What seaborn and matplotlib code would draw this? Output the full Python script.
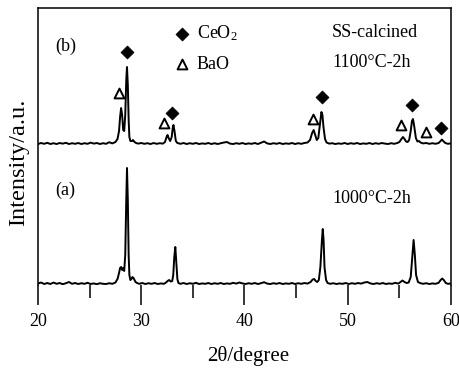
import matplotlib
matplotlib.use("Agg")
import matplotlib.pyplot as plt
import numpy as np
import pandas as pd
import seaborn as sns

# XRD traces: 2-theta (degree) and intensity (a.u.)
two_theta_a = [
    20.0, 20.3, 20.6, 20.9, 21.2, 21.5, 21.8, 22.1, 22.4, 22.7, 23.0, 23.3, 23.6, 23.9,
    24.2, 24.5, 24.8, 25.1, 25.4, 25.7, 26.0, 26.3, 26.6, 26.9, 27.2, 27.5, 27.7, 27.85,
    27.95, 28.05, 28.15, 28.25, 28.35, 28.45, 28.55, 28.62, 28.7, 28.78, 28.85, 28.95,
    29.05, 29.15, 29.25, 29.35, 29.45, 29.6, 29.8, 30.1, 30.4, 30.7, 31.0, 31.3, 31.6,
    31.9, 32.2, 32.4, 32.55, 32.7, 32.85, 33.0, 33.1, 33.2, 33.3, 33.4, 33.5, 33.6, 33.8,
    34.1, 34.4, 34.7, 35.0, 35.3, 35.6, 35.9, 36.2, 36.5, 36.8, 37.1, 37.4, 37.7, 38.0,
    38.3, 38.6, 38.9, 39.2, 39.5, 39.8, 40.1, 40.4, 40.7, 41.0, 41.3, 41.6, 41.9, 42.2,
    42.5, 42.8, 43.1, 43.4, 43.7, 44.0, 44.3, 44.6, 44.9, 45.2, 45.5, 45.8, 46.1, 46.4,
    46.6, 46.75, 46.9, 47.05, 47.2, 47.35, 47.5, 47.58, 47.66, 47.75, 47.9, 48.05, 48.3,
    48.6, 48.9, 49.2, 49.5, 49.8, 50.1, 50.4, 50.7, 51.0, 51.3, 51.6, 51.9, 52.2, 52.5,
    52.8, 53.1, 53.4, 53.7, 54.0, 54.3, 54.6, 54.9, 55.1, 55.3, 55.5, 55.7, 55.9, 56.1,
    56.25, 56.38, 56.5, 56.62, 56.8, 57.0, 57.3, 57.6, 57.9, 58.2, 58.5, 58.8, 59.0,
    59.15, 59.3, 59.5, 59.7, 60.0,
]
intensity_a = [
    1.5, 2.5, 1.0, 2.0, 1.0, 2.5, 1.2, 2.0, 0.8, 1.8, 3.0, 1.2, 2.0, 1.0,
    1.8, 1.2, 2.2, 1.0, 1.6, 0.8, 1.8, 1.2, 1.0, 1.8, 1.2, 2.5, 6.0, 12.0,
    17.0, 18.0, 15.0, 17.0, 14.0, 30.0, 85.0, 117.0, 85.0, 30.0, 10.0, 5.0,
    6.0, 8.0, 7.0, 5.0, 3.0, 2.0, 1.2, 2.0, 1.0, 1.8, 1.2, 2.0, 1.0,
    1.6, 1.2, 2.5, 4.0, 5.0, 3.5, 4.0, 10.0, 28.0, 38.0, 22.0, 6.0, 2.0, 1.2,
    2.0, 1.0, 1.8, 1.2, 2.2, 1.0, 1.6, 1.2, 2.0, 1.0, 1.8, 1.2, 2.0, 1.0,
    1.6, 1.2, 2.2, 1.4, 2.5, 1.6, 1.0, 1.8, 1.2, 2.0, 1.0, 1.8, 2.8, 1.4,
    1.0, 1.8, 1.2, 2.0, 1.0, 1.6, 1.2, 2.0, 1.0, 1.8, 1.2, 2.0, 1.4, 3.0,
    5.5, 6.0, 4.0, 3.0, 5.0, 18.0, 45.0, 56.0, 45.0, 18.0, 5.0, 2.0, 1.2,
    1.8, 1.0, 1.6, 1.2, 2.0, 1.0, 1.8, 1.2, 2.0, 1.4, 2.5, 3.0, 1.6, 1.0,
    1.8, 1.2, 2.0, 1.0, 1.6, 1.2, 2.2, 1.4, 3.0, 4.5, 3.0, 2.0, 2.5, 8.0,
    28.0, 45.0, 30.0, 10.0, 3.0, 2.0, 1.2, 1.8, 1.0, 1.6, 1.2, 2.2, 5.0,
    6.5, 5.0, 2.0, 1.2, 1.5,
]

two_theta_b = [
    20.0, 20.3, 20.6, 20.9, 21.2, 21.5, 21.8, 22.1, 22.4, 22.7, 23.0, 23.3, 23.6, 23.9,
    24.2, 24.5, 24.8, 25.1, 25.4, 25.7, 26.0, 26.3, 26.6, 26.9, 27.2, 27.5, 27.7, 27.85,
    27.95, 28.05, 28.15, 28.25, 28.35, 28.45, 28.55, 28.62, 28.7, 28.78, 28.85, 28.95,
    29.1, 29.2, 29.35, 29.5, 29.7, 30.0, 30.3, 30.6, 30.9, 31.2, 31.5, 31.8, 32.1, 32.3,
    32.45, 32.55, 32.65, 32.8, 32.95, 33.05, 33.12, 33.22, 33.35, 33.5, 33.8, 34.1, 34.4,
    34.7, 35.0, 35.3, 35.6, 35.9, 36.2, 36.5, 36.8, 37.1, 37.4, 37.7, 38.0, 38.3, 38.6,
    38.9, 39.2, 39.5, 39.8, 40.1, 40.4, 40.7, 41.0, 41.3, 41.6, 41.9, 42.2, 42.5, 42.8,
    43.1, 43.4, 43.7, 44.0, 44.3, 44.6, 44.9, 45.2, 45.5, 45.8, 46.1, 46.35, 46.55, 46.7,
    46.85, 47.0, 47.15, 47.3, 47.45, 47.55, 47.65, 47.8, 47.95, 48.2, 48.5, 48.8, 49.1,
    49.4, 49.7, 50.0, 50.3, 50.6, 50.9, 51.2, 51.5, 51.8, 52.1, 52.4, 52.7, 53.0, 53.3,
    53.6, 53.9, 54.2, 54.5, 54.8, 55.0, 55.2, 55.35, 55.5, 55.65, 55.8, 55.95, 56.1,
    56.22, 56.32, 56.45, 56.6, 56.75, 56.9, 57.05, 57.3, 57.6, 57.9, 58.2, 58.5, 58.8,
    59.0, 59.12, 59.25, 59.45, 59.7, 60.0,
]
intensity_b = [
    1.0, 2.0, 1.2, 2.2, 1.0, 1.8, 1.0, 2.0, 1.4, 2.2, 1.0, 1.8, 1.2, 2.0,
    1.0, 1.8, 1.2, 2.4, 1.4, 2.0, 1.0, 1.8, 1.2, 2.8, 1.6, 3.0, 6.0, 14.0,
    28.0, 37.0, 30.0, 15.0, 14.0, 30.0, 65.0, 78.0, 60.0, 25.0, 8.0, 4.0,
    4.0, 5.0, 3.0, 2.0, 1.4, 2.0, 1.2, 1.8, 1.0, 2.0, 1.2, 1.8, 1.4, 3.0,
    8.0, 10.0, 7.0, 4.0, 8.0, 17.0, 20.0, 14.0, 4.0, 2.0, 1.2, 2.0, 1.0,
    1.8, 1.2, 2.0, 1.0, 1.6, 1.2, 2.0, 1.0, 1.8, 1.0, 1.8, 2.5, 3.0, 1.4,
    1.0, 1.8, 1.2, 2.0, 1.0, 1.6, 1.2, 2.0, 1.0, 2.2, 3.5, 1.6, 1.0, 1.8,
    1.2, 2.0, 1.0, 1.6, 1.2, 2.0, 1.0, 1.8, 1.2, 2.0, 2.5, 5.0, 12.0, 15.0,
    10.0, 5.0, 7.0, 20.0, 33.0, 30.0, 18.0, 6.0, 2.5, 1.4, 1.8, 1.0, 1.6,
    1.2, 2.0, 1.0, 1.8, 1.2, 2.0, 1.0, 1.6, 1.2, 2.0, 1.0, 1.8, 1.2, 2.0,
    1.4, 1.0, 1.8, 1.2, 2.0, 3.0, 6.0, 8.0, 6.0, 3.5, 3.0, 5.0, 14.0,
    24.0, 26.0, 18.0, 7.0, 3.5, 4.0, 2.5, 1.6, 2.0, 1.2, 1.8, 1.2, 2.0,
    4.0, 5.5, 4.0, 2.0, 1.2, 1.6,
]
offset_b = 140.0  # vertical shift of the 1100 °C trace

# Phase markers on trace (b)
ceo2_theta = [28.65, 33.0, 47.5, 56.2, 59.0]
ceo2_level = [233.0, 172.0, 188.0, 180.0, 157.0]
bao_theta = [27.8, 32.2, 46.6, 55.2, 57.6]
bao_level = [192.0, 162.0, 166.0, 160.0, 153.0]

x_ticks = [20, 30, 40, 50, 60]
x_minor = [25, 35, 45, 55]

sns.set_theme(style="ticks")
plt.rcParams["font.family"] = ["Liberation Serif", "DejaVu Serif"]
plt.rcParams["mathtext.fontset"] = "custom"
plt.rcParams["mathtext.rm"] = "Liberation Serif"
plt.rcParams["mathtext.it"] = "Liberation Serif:italic"

df_a = pd.DataFrame({"theta": two_theta_a, "I": intensity_a})
df_b = pd.DataFrame({"theta": two_theta_b, "I": np.array(intensity_b) + offset_b})

fig = plt.figure(figsize=(4.6, 3.69), dpi=100)
ax = fig.add_axes([0.0826, 0.2276, 0.8978, 0.7507])

sns.lineplot(data=df_a, x="theta", y="I", ax=ax, color="black", lw=1.4,
             estimator=None, sort=False)
sns.lineplot(data=df_b, x="theta", y="I", ax=ax, color="black", lw=1.4,
             estimator=None, sort=False)

ax.scatter(ceo2_theta, ceo2_level, marker="D", s=44, color="black",
           edgecolors="black", linewidths=0.5, label="CeO$_2$", zorder=3)
ax.scatter(bao_theta, bao_level, marker="^", s=50, facecolors="white",
           edgecolors="black", linewidths=1.4, label="BaO", zorder=3)

ax.set_xlim(20, 60)
ax.set_ylim(0, 277)
ax.set_xticks(x_ticks)
ax.set_xticks(x_minor, minor=True)
ax.set_yticks([])
ax.tick_params(axis="x", which="major", direction="out", length=14.4, width=1.1,
               color="black", labelsize=13, pad=5.5, labelcolor="black")
ax.tick_params(axis="x", which="minor", direction="out", length=9.4, width=1.1,
               color="black")
for side in ["left", "right", "top"]:
    ax.spines[side].set_linewidth(1.1)
    ax.spines[side].set_color("black")
ax.spines["bottom"].set_visible(False)

ax.set_xlabel("2θ/degree", fontsize=15, color="black")
ax.xaxis.set_label_coords(0.51, -0.22)
ax.set_ylabel("Intensity/a.u.", fontsize=17.5, color="black")
ax.yaxis.set_label_coords(-0.022, 0.444)

leg = ax.legend(loc="upper left", bbox_to_anchor=(0.328, 0.945), frameon=False,
                fontsize=13, handlelength=1.0, handletextpad=0.3,
                labelspacing=0.72, borderpad=0.0, borderaxespad=0.0)
for t in leg.get_texts():
    t.set_color("black")

txt = dict(fontsize=13, color="black", transform=ax.transAxes, va="center", ha="left")
ax.text(0.041, 0.861, "(b)", **txt)
ax.text(0.041, 0.343, "(a)", **txt)
ax.text(0.712, 0.913, "SS-calcined", **txt)
ax.text(0.712, 0.805, "1100°C-2h", **txt)
ax.text(0.712, 0.314, "1000°C-2h", **txt)

fig.savefig("out.png", dpi=100)
